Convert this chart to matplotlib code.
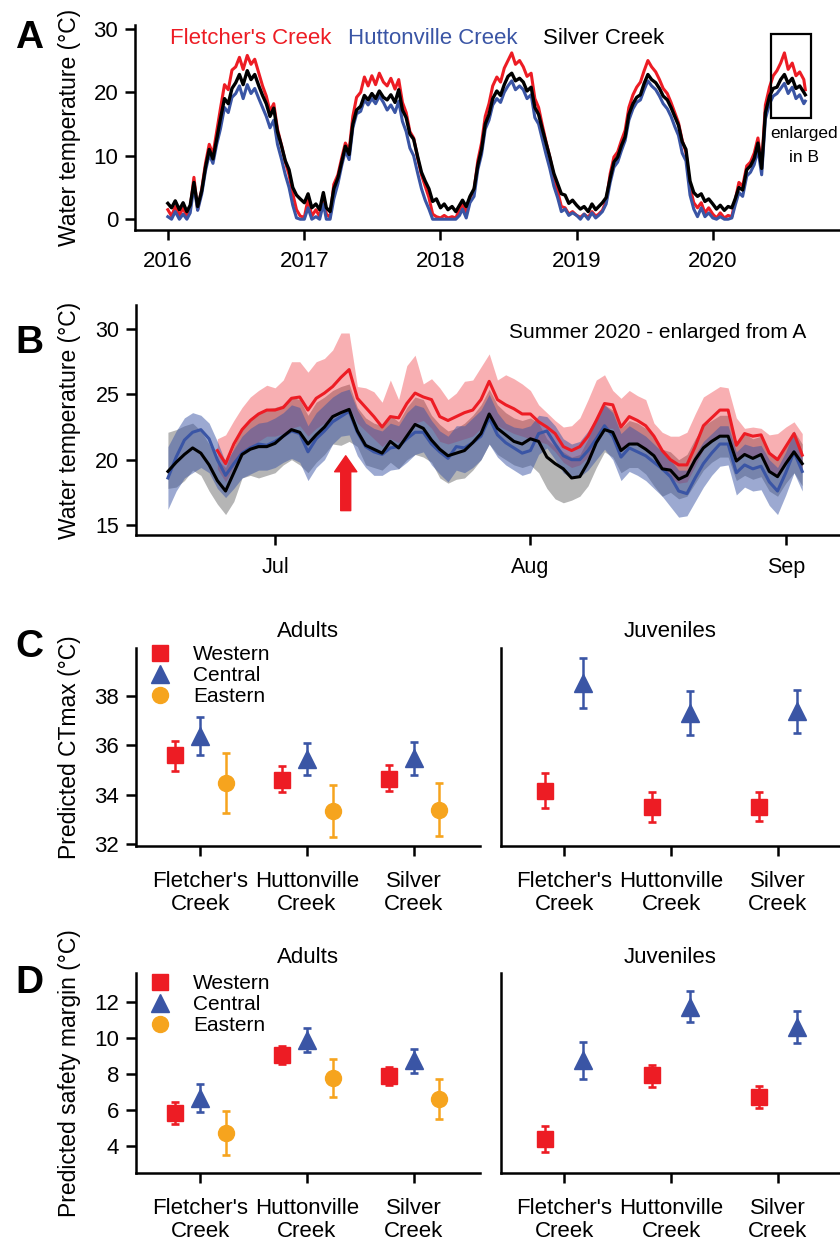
import matplotlib
matplotlib.use('Agg')
import matplotlib.pyplot as plt
import matplotlib.dates as mdates
from matplotlib.patches import Rectangle
from matplotlib.lines import Line2D
import numpy as np
import pandas as pd

plt.rcParams['font.family'] = ['Liberation Sans', 'DejaVu Sans']

RED = '#ED1C24'
BLUE = '#3A55A5'
ORANGE = '#F6A41E'

# --- A: water temperature, 10-day readings 2016 - Sep 2020 ---
fletcher_a = [
    1.5, 0.5, 2.0, 0.6, 1.8, 0.4, 1.8, 6.6, 1.5, 4.8, 8.8, 11.8,
    10.2, 13.8, 17.4, 21.2, 20.4, 23.5, 24.0, 25.5, 23.6, 25.8, 24.4, 25.2,
    23.0, 21.0, 19.4, 17.0, 18.2, 14.2, 11.6, 9.0, 7.0, 4.0, 1.5, 0.5,
    0.3, 3.2, 0.5, 1.5, 0.4, 3.6, 0.8, 0.3, 5.5, 7.0, 9.6, 12.0,
    10.8, 16.2, 19.2, 20.0, 22.4, 21.0, 22.6, 21.2, 23.0, 21.6, 21.0, 22.2,
    20.5, 22.0, 18.4, 16.8, 13.8, 12.8, 9.6, 7.0, 5.2, 3.4, 0.8, 0.4,
    0.2, 0.6, 0.2, 0.4, 0.2, 1.5, 2.4, 1.0, 3.4, 4.6, 9.2, 12.0,
    16.2, 18.2, 21.0, 22.4, 21.6, 23.8, 25.0, 26.2, 24.4, 25.0, 24.0, 22.5,
    23.0, 19.0, 17.6, 14.8, 12.2, 9.8, 6.8, 4.4, 2.0, 1.8, 0.8, 1.2,
    0.6, 0.3, 0.8, 0.3, 1.2, 0.5, 0.8, 1.4, 2.8, 7.2, 9.8, 10.6,
    12.4, 14.0, 17.6, 19.6, 20.8, 21.6, 23.4, 25.0, 24.0, 23.2, 22.0, 20.6,
    19.8, 18.4, 16.8, 15.2, 12.4, 10.6, 5.0, 2.6, 1.8, 2.6, 1.0, 1.8,
    0.8, 0.2, 1.0, 0.2, 0.6, 0.4, 3.0, 5.8, 5.2, 8.4, 9.0, 10.4,
    12.8, 8.6, 18.0, 20.8, 22.6, 23.4, 24.6, 26.2, 23.6, 24.6, 22.6, 23.2,
    22.0, 20.4]
hutton_a = [
    0.4, 0.0, 1.2, 0.0, 0.8, 0.0, 1.0, 5.2, 1.4, 4.0, 7.6, 10.2,
    8.8, 11.8, 14.2, 17.6, 16.8, 19.2, 19.8, 21.0, 19.0, 21.2, 19.8, 20.6,
    19.0, 17.6, 16.2, 14.4, 15.6, 11.8, 9.4, 7.0, 5.0, 2.2, 0.2, 0.0,
    0.0, 1.8, 0.0, 0.4, 0.0, 2.4, 0.0, 0.0, 3.2, 5.6, 8.4, 10.8,
    9.4, 14.4, 16.6, 17.0, 18.8, 18.0, 19.0, 18.2, 19.4, 18.4, 17.2, 18.0,
    16.8, 18.6, 15.4, 13.8, 11.2, 10.0, 7.2, 4.8, 3.0, 1.6, 0.0, 0.0,
    0.0, 0.0, 0.0, 0.0, 0.0, 0.6, 1.6, 0.2, 2.6, 3.6, 7.8, 10.2,
    14.2, 15.6, 18.0, 19.0, 18.4, 20.0, 21.0, 21.8, 20.4, 21.0, 20.4, 19.0,
    19.6, 16.0, 15.0, 12.6, 10.2, 8.0, 5.2, 3.4, 1.2, 1.6, 0.6, 1.0,
    0.6, 0.0, 0.8, 0.0, 1.0, 0.2, 0.6, 1.2, 2.4, 5.8, 8.2, 9.0,
    10.8, 12.4, 15.6, 17.4, 18.4, 18.8, 20.4, 21.8, 21.0, 20.4, 19.4, 18.2,
    17.4, 16.2, 14.6, 13.2, 10.4, 9.2, 3.8, 1.6, 0.4, 1.8, 0.4, 1.0,
    0.2, 0.0, 0.4, 0.0, 0.0, 0.2, 2.2, 4.2, 3.6, 6.8, 7.4, 8.6,
    11.0, 7.0, 15.8, 18.2, 19.4, 19.8, 20.6, 21.4, 19.8, 20.8, 19.0, 19.6,
    18.2, 18.6]
silver_a = [
    2.5, 1.8, 2.9, 1.5, 2.6, 1.2, 2.2, 5.8, 2.0, 4.5, 8.2, 11.0,
    9.5, 12.6, 15.8, 19.0, 18.2, 20.6, 21.5, 22.8, 21.2, 23.4, 22.0, 22.8,
    21.0, 19.5, 18.2, 16.2, 17.5, 13.8, 11.5, 9.2, 7.8, 5.0, 3.8, 3.2,
    2.6, 4.0, 1.8, 2.4, 1.5, 4.2, 1.8, 1.2, 4.8, 6.5, 9.0, 11.5,
    10.2, 15.0, 17.2, 17.8, 19.5, 18.8, 19.8, 19.0, 20.2, 19.2, 18.8, 19.6,
    18.4, 20.4, 17.2, 16.0, 13.4, 12.6, 9.8, 7.4, 6.0, 4.8, 2.8, 3.2,
    1.8, 2.4, 1.5, 2.0, 1.2, 2.2, 3.0, 2.0, 3.6, 4.8, 8.5, 11.0,
    15.0, 16.5, 19.0, 20.2, 19.5, 21.2, 22.5, 23.0, 21.8, 22.2, 21.6, 20.2,
    20.8, 17.6, 16.5, 14.2, 12.0, 9.8, 7.2, 5.6, 4.0, 3.8, 2.5, 3.0,
    2.2, 1.6, 2.0, 1.2, 2.4, 1.5, 2.0, 2.6, 3.4, 6.5, 9.0, 9.8,
    11.6, 13.0, 16.5, 18.2, 19.2, 19.6, 21.4, 22.8, 22.0, 21.5, 20.6, 19.4,
    18.8, 17.6, 16.2, 14.8, 12.2, 11.0, 6.0, 4.2, 3.6, 4.0, 2.8, 3.2,
    2.4, 1.6, 2.2, 1.4, 2.0, 1.8, 3.2, 5.0, 4.6, 7.8, 8.4, 9.6,
    12.0, 8.0, 16.8, 19.4, 20.6, 20.8, 22.0, 22.8, 21.4, 22.2, 20.6, 21.0,
    20.0, 19.6]
dates_a = [pd.Timestamp(y, m, d) for y in range(2016, 2021) for m in range(1, 13)
           for d in (1, 11, 21) if (y, m) < (2020, 9)]
dates_a += [pd.Timestamp(2020, 9, 1), pd.Timestamp(2020, 9, 5)]

# --- B: daily mean / min / max, 18 Jun - 3 Sep 2020 ---
dates_b = pd.date_range('2020-06-18', periods=78, freq='D')
silver_mean = [
    19.1, 19.8, 20.4, 20.9, 20.5, 19.6, 18.4, 17.6, 19.0, 20.4,
    20.8, 21.0, 21.0, 21.25, 21.8, 22.3, 22.1, 21.2, 21.9, 22.5,
    23.3, 23.6, 23.85, 22.2, 21.1, 20.8, 20.5, 21.4, 20.9, 21.8,
    22.7, 22.4, 21.5, 20.8, 20.3, 20.5, 20.7, 21.3, 22.0, 23.5,
    22.4, 21.9, 21.4, 21.2, 21.6, 21.4, 20.2, 19.7, 19.3, 18.6,
    18.7, 19.8, 21.3, 22.3, 22.1, 20.7, 21.2, 21.2, 20.8, 20.3,
    19.3, 19.2, 18.5, 18.8, 20.0, 20.9, 21.4, 21.8, 21.8, 19.9,
    20.4, 20.1, 20.4, 19.1, 18.7, 19.7, 20.6, 19.7]
silver_max = [
    22.1, 22.3, 22.6, 22.8, 22.2, 21.2, 20.0, 19.4, 21.0, 22.4,
    23.2, 23.6, 23.9, 24.0, 24.2, 24.8, 24.6, 23.4, 24.4, 24.8,
    25.3, 25.6, 25.8, 24.0, 23.2, 22.8, 22.6, 23.4, 22.9, 24.0,
    24.8, 24.6, 23.4, 22.7, 22.2, 22.4, 22.8, 23.4, 24.2, 25.4,
    24.2, 23.6, 23.2, 23.0, 23.2, 22.8, 21.6, 21.0, 20.6, 20.2,
    20.4, 21.6, 23.2, 24.2, 23.8, 22.4, 23.0, 22.8, 22.4, 21.8,
    20.8, 20.6, 20.0, 20.4, 21.6, 22.6, 23.0, 23.4, 23.4, 21.4,
    22.0, 21.6, 21.8, 20.6, 20.2, 21.2, 22.2, 21.2]
silver_min = [
    17.8, 17.9, 18.4, 19.2, 18.8, 17.6, 16.6, 15.8, 16.8, 18.6,
    18.8, 18.6, 18.8, 19.0, 19.6, 20.0, 19.6, 19.0, 19.8, 20.4,
    21.2, 21.1, 21.4, 21.0, 19.6, 19.4, 19.2, 19.8, 19.3, 20.0,
    20.4, 20.2, 19.8, 18.6, 18.2, 18.5, 18.6, 19.2, 20.0, 21.2,
    20.4, 20.0, 19.6, 19.4, 19.6, 19.0, 17.8, 17.0, 16.7, 16.9,
    17.2, 18.0, 19.4, 20.6, 20.2, 19.0, 19.4, 19.4, 18.9, 18.0,
    17.2, 17.5, 17.0, 17.2, 18.2, 19.2, 19.8, 20.2, 20.2, 18.4,
    18.8, 18.5, 18.7, 17.6, 17.2, 18.2, 19.0, 18.0]
hutton_mean = [
    18.6, 20.2, 21.5, 22.1, 22.3, 21.6, 20.0, 18.8, 19.7, 20.5,
    20.9, 21.2, 21.1, 21.4, 21.8, 22.2, 22.0, 20.6, 21.6, 22.2,
    22.9, 23.3, 23.7, 22.1, 21.0, 20.6, 20.4, 20.9, 21.0, 21.6,
    22.1, 22.1, 21.2, 20.6, 20.1, 21.0, 20.9, 21.3, 21.8, 23.2,
    21.9, 21.3, 20.9, 20.5, 20.7, 22.0, 22.2, 21.2, 20.3, 20.0,
    20.0, 20.7, 21.6, 22.6, 21.8, 20.2, 20.9, 20.6, 20.3, 19.8,
    19.3, 18.7, 17.6, 17.4, 18.6, 19.7, 20.5, 21.2, 21.2, 19.0,
    19.6, 19.3, 19.5, 18.3, 17.6, 19.0, 20.6, 19.1]
hutton_max = [
    21.0, 22.2, 23.2, 23.6, 23.4, 22.8, 21.4, 19.8, 20.8, 21.8,
    22.4, 22.8, 22.9, 23.2, 23.6, 24.2, 24.0, 22.6, 23.6, 24.2,
    24.8, 25.2, 25.4, 23.8, 22.8, 22.4, 22.2, 22.8, 22.6, 23.6,
    24.2, 24.0, 23.0, 22.2, 21.8, 22.6, 22.6, 23.2, 23.8, 25.0,
    23.6, 22.8, 22.5, 22.4, 22.6, 23.4, 23.3, 22.6, 21.6, 21.2,
    21.4, 22.2, 23.2, 24.2, 23.6, 22.0, 22.6, 22.2, 21.8, 21.2,
    20.6, 20.0, 19.2, 19.2, 20.4, 21.4, 22.0, 22.6, 22.6, 20.6,
    21.2, 21.0, 21.1, 20.0, 19.4, 20.6, 22.2, 20.6]
hutton_min = [
    16.2, 17.6, 18.6, 19.0, 19.4, 19.0, 17.8, 17.1, 17.8, 18.6,
    18.9, 19.2, 19.2, 19.4, 19.8, 20.1, 19.8, 18.4, 19.4, 20.0,
    21.2, 21.8, 21.9, 20.3, 19.4, 18.8, 18.8, 19.2, 19.3, 19.8,
    20.4, 20.6, 19.6, 18.9, 18.3, 19.2, 19.0, 19.4, 20.0, 21.2,
    20.2, 19.6, 19.2, 18.8, 19.0, 20.4, 20.9, 20.0, 19.0, 18.6,
    18.7, 19.2, 20.0, 20.8, 20.0, 18.4, 19.1, 18.8, 18.4, 17.8,
    17.2, 16.4, 15.6, 15.7, 16.8, 17.9, 18.8, 19.5, 19.6, 17.3,
    17.9, 17.6, 17.7, 16.5, 15.8, 17.3, 19.0, 17.6]
# Fletcher's logger starts on 24 Jun
fletcher_mean = [
    20.7, 19.7, 21.2, 22.3,
    23.0, 23.5, 23.8, 23.8, 24.0, 24.7, 24.8, 23.8, 24.7, 25.1,
    25.6, 26.3, 26.9, 24.7, 24.0, 23.3, 22.5, 23.3, 23.2, 24.3,
    25.1, 24.8, 24.6, 23.3, 23.0, 23.3, 23.6, 23.8, 24.6, 26.0,
    24.6, 24.2, 23.9, 23.5, 23.5, 22.9, 22.5, 22.0, 21.0, 20.7,
    21.0, 21.8, 23.0, 24.3, 24.2, 22.5, 23.3, 23.0, 22.6, 21.8,
    20.7, 20.0, 19.6, 19.6, 21.0, 22.6, 23.2, 23.8, 23.8, 21.1,
    22.0, 21.8, 21.9, 20.5, 20.0, 21.0, 22.0, 20.35]
fletcher_max = [
    21.6, 21.9, 23.0, 24.0,
    24.8, 25.3, 25.7, 25.5, 26.1, 27.5, 27.5, 26.7, 27.5, 27.75,
    28.4, 29.7, 29.7, 25.6, 25.5, 25.2, 24.4, 26.1, 24.6, 27.2,
    28.0, 25.8, 26.2, 25.5, 24.6, 25.1, 26.0, 26.1, 27.1, 28.1,
    26.1, 26.5, 26.2, 25.8, 25.3, 24.2, 23.6, 23.0, 22.5, 22.6,
    23.2, 24.6, 26.1, 26.5, 25.3, 24.7, 25.3, 24.9, 24.6, 22.8,
    22.1, 21.8, 21.8, 22.1, 23.5, 24.8, 25.2, 25.6, 25.5, 23.2,
    22.4, 22.5, 22.4, 21.9, 22.0, 22.5, 22.9, 22.0]
fletcher_min = [
    19.3, 18.3, 19.5, 20.5,
    21.0, 21.4, 21.8, 21.8, 22.0, 22.4, 22.6, 21.8, 22.4, 22.8,
    23.2, 23.6, 24.0, 22.8, 22.2, 21.6, 21.0, 21.6, 21.3, 22.0,
    22.8, 23.0, 22.4, 21.4, 21.2, 21.4, 21.6, 21.8, 22.4, 23.6,
    22.6, 22.3, 22.0, 21.8, 21.6, 21.4, 21.2, 20.6, 19.8, 19.4,
    19.6, 20.2, 21.2, 22.4, 22.4, 20.8, 21.4, 21.2, 20.8, 20.2,
    19.4, 18.6, 18.2, 18.3, 19.5, 20.8, 21.4, 21.9, 21.9, 19.8,
    20.4, 20.2, 20.3, 19.2, 18.7, 19.6, 20.8, 19.3]
arrow_date = pd.Timestamp('2020-07-09 14:00')

# --- C / D: model predictions (mean, lower, upper) ---
creeks = ["Fletcher's\nCreek", "Huttonville\nCreek", "Silver\nCreek"]

ctmax_adult_western = [35.6, 34.6, 34.65]
ctmax_adult_western_ci = ([34.95, 34.1, 34.15], [36.2, 35.15, 35.2])
ctmax_adult_central = [36.4, 35.47, 35.5]
ctmax_adult_central_ci = ([35.6, 34.8, 34.8], [37.17, 36.08, 36.16])
ctmax_adult_eastern = [34.46, 33.33, 33.4]
ctmax_adult_eastern_ci = ([33.25, 32.28, 32.32], [35.7, 34.38, 34.46])
ctmax_juv_western = [34.14, 33.5, 33.5]
ctmax_juv_western_ci = ([33.45, 32.9, 32.93], [34.9, 34.1, 34.1])
ctmax_juv_central = [38.55, 37.33, 37.4]
ctmax_juv_central_ci = ([37.5, 36.44, 36.5], [39.56, 38.2, 38.26])

margin_adult_western = [5.83, 9.06, 7.9]
margin_adult_western_ci = ([5.22, 8.56, 7.39], [6.44, 9.56, 8.39])
margin_adult_central = [6.67, 9.89, 8.78]
margin_adult_central_ci = ([5.89, 9.22, 8.06], [7.44, 10.56, 9.39])
margin_adult_eastern = [4.72, 7.78, 6.61]
margin_adult_eastern_ci = ([3.5, 6.72, 5.5], [5.94, 8.83, 7.72])
margin_juv_western = [4.39, 7.94, 6.72]
margin_juv_western_ci = ([3.67, 7.28, 6.11], [5.11, 8.5, 7.33])
margin_juv_central = [8.78, 11.72, 10.6]
margin_juv_central_ci = ([7.72, 10.89, 9.72], [9.78, 12.61, 11.5])

STYLE = {'Western': ('s', RED, 11),
         'Central': ('^', BLUE, 13.5),
         'Eastern': ('o', ORANGE, 11.5)}


def style_axis(ax, fs=16):
    for s in ['top', 'right']:
        ax.spines[s].set_visible(False)
    for s in ['left', 'bottom']:
        ax.spines[s].set_linewidth(1.8)
    ax.tick_params(width=1.8, length=7, labelsize=fs, pad=5)


def plot_points(ax, groups, offsets):
    x0 = np.arange(1, 4)
    for (name, mid, ci), off in zip(groups, offsets):
        marker, color, ms = STYLE[name]
        lo, hi = ci
        yerr = [np.subtract(mid, lo), np.subtract(hi, mid)]
        ax.errorbar(x0 + off, mid, yerr=yerr, fmt=marker, color=color, ms=ms,
                    mec=color, elinewidth=1.8, capsize=3.0, capthick=1.9)
    ax.set_xticks(x0)
    ax.set_xticklabels(creeks, linespacing=1.12)


def add_legend(ax, y_top):
    handles = [Line2D([], [], ls='none', marker=STYLE[n][0], color=STYLE[n][1],
                      ms=STYLE[n][2]) for n in ['Western', 'Central', 'Eastern']]
    ax.legend(handles, ['Western', 'Central', 'Eastern'], loc='upper left',
              bbox_to_anchor=(0.04, y_top), frameon=False, fontsize=15,
              handlelength=1.0, handletextpad=1.08, labelspacing=0.1,
              borderpad=0, borderaxespad=0)


fig = plt.figure(figsize=(8.4, 12.42), dpi=100)

# ---------------- A ----------------
axA = fig.add_axes([0.1607, 0.8148, 0.8393, 0.1651])
axA.plot(dates_a, fletcher_a, color=RED, lw=2.2)
axA.plot(dates_a, hutton_a, color=BLUE, lw=2.2)
axA.plot(dates_a, silver_a, color='black', lw=2.4)
axA.set_ylim(-1.7, 30.6)
axA.set_yticks([0, 10, 20, 30])
axA.set_xlim(pd.Timestamp('2015-10-05'), pd.Timestamp('2020-12-07'))
axA.xaxis.set_major_locator(mdates.YearLocator())
axA.xaxis.set_major_formatter(mdates.DateFormatter('%Y'))
style_axis(axA)
axA.tick_params(axis='x', pad=8)
axA.set_ylabel('Water temperature (°C)', fontsize=16.5)
axA.yaxis.set_label_coords(-0.0766, 0.5)
for label, color, xpos in [("Fletcher's Creek", RED, 0.0496),
                           ('Huttonville Creek', BLUE, 0.302),
                           ('Silver Creek', 'black', 0.579)]:
    axA.text(xpos, 0.907, label, color=color, fontsize=16,
             transform=axA.transAxes, va='baseline')
x_box = mdates.date2num(pd.Timestamp('2020-06-04'))
axA.add_patch(Rectangle((x_box, 16.0), 107, 13.1, fill=False, lw=1.6,
                        ec='black', clip_on=False, zorder=5))
axA.text(pd.Timestamp('2020-09-01'), 12.8, 'enlarged', fontsize=12.5,
         ha='center', va='baseline')
axA.text(pd.Timestamp('2020-09-01'), 9.0, 'in B', fontsize=12.5,
         ha='center', va='baseline')

# ---------------- B ----------------
axB = fig.add_axes([0.1619, 0.5692, 0.8381, 0.1852])
dates_f = dates_b[6:]
axB.fill_between(dates_b, silver_min, silver_max, color='black', alpha=0.29, lw=0)
axB.fill_between(dates_f, fletcher_min, fletcher_max, color=RED, alpha=0.35, lw=0)
axB.fill_between(dates_b, hutton_min, hutton_max, color=BLUE, alpha=0.5, lw=0)
axB.plot(dates_b, hutton_mean, color=BLUE, lw=2.2)
axB.plot(dates_b, silver_mean, color='black', lw=2.2)
axB.plot(dates_f, fletcher_mean, color=RED, lw=2.2)
axB.set_ylim(14.23, 31.84)
axB.set_yticks([15, 20, 25, 30])
axB.set_xlim(pd.Timestamp('2020-06-14 03:00'), pd.Timestamp('2020-09-07 14:00'))
axB.xaxis.set_major_locator(mdates.MonthLocator(bymonth=[7, 8, 9]))
axB.xaxis.set_major_formatter(mdates.DateFormatter('%b'))
style_axis(axB, fs=15.5)
axB.tick_params(axis='x', pad=9)
axB.set_ylabel('Water temperature (°C)', fontsize=16.5)
axB.yaxis.set_label_coords(-0.0781, 0.5)
axB.text(0.53, 0.857, 'Summer 2020 - enlarged from A', fontsize=15,
         transform=axB.transAxes, va='baseline')
axB.annotate('', xy=(arrow_date, 20.3), xytext=(arrow_date, 16.1),
             arrowprops=dict(arrowstyle='simple,head_length=1.15,head_width=1.6,tail_width=0.72',
                             color=RED, shrinkA=0, shrinkB=0, mutation_scale=10))

# ---------------- C ----------------
axC1 = fig.add_axes([0.1619, 0.3188, 0.4095, 0.1594])
axC2 = fig.add_axes([0.5964, 0.3188, 0.4036, 0.1594])
plot_points(axC1, [('Western', ctmax_adult_western, ctmax_adult_western_ci),
                   ('Central', ctmax_adult_central, ctmax_adult_central_ci),
                   ('Eastern', ctmax_adult_eastern, ctmax_adult_eastern_ci)],
            [-0.235, 0.0, 0.24])
plot_points(axC2, [('Western', ctmax_juv_western, ctmax_juv_western_ci),
                   ('Central', ctmax_juv_central, ctmax_juv_central_ci)],
            [-0.18, 0.18])
for ax, xl in [(axC1, (0.40, 3.62)), (axC2, (0.41, 3.58))]:
    ax.set_ylim(31.92, 39.95)
    ax.set_xlim(*xl)
    style_axis(ax)
    ax.tick_params(axis='x', pad=11)
axC1.set_yticks([32, 34, 36, 38])
axC2.set_yticks([])
axC1.set_title('Adults', fontsize=16, pad=8)
axC2.set_title('Juveniles', fontsize=16, pad=8)
axC1.set_ylabel('Predicted CTmax (°C)', fontsize=16.5)
axC1.yaxis.set_label_coords(-0.16, 0.5)
add_legend(axC1, 1.015)

# ---------------- D ----------------
axD1 = fig.add_axes([0.1619, 0.0556, 0.4095, 0.161])
axD2 = fig.add_axes([0.5964, 0.0556, 0.4036, 0.161])
plot_points(axD1, [('Western', margin_adult_western, margin_adult_western_ci),
                   ('Central', margin_adult_central, margin_adult_central_ci),
                   ('Eastern', margin_adult_eastern, margin_adult_eastern_ci)],
            [-0.235, 0.0, 0.24])
plot_points(axD2, [('Western', margin_juv_western, margin_juv_western_ci),
                   ('Central', margin_juv_central, margin_juv_central_ci)],
            [-0.18, 0.18])
for ax, xl in [(axD1, (0.40, 3.62)), (axD2, (0.41, 3.58))]:
    ax.set_ylim(2.5, 13.6)
    ax.set_xlim(*xl)
    style_axis(ax)
    ax.tick_params(axis='x', pad=11)
axD1.set_yticks([4, 6, 8, 10, 12])
axD2.set_yticks([])
axD1.set_title('Adults', fontsize=16, pad=7)
axD2.set_title('Juveniles', fontsize=16, pad=7)
axD1.set_ylabel('Predicted safety margin (°C)', fontsize=16.5)
axD1.yaxis.set_label_coords(-0.16, 0.5)
add_legend(axD1, 0.995)

# panel letters
for letter, y in [('A', 0.9614), ('B', 0.7158), ('C', 0.471), ('D', 0.2005)]:
    fig.text(0.018, y, letter, fontsize=28, fontweight='bold', va='baseline')

fig.savefig('out.png', dpi=100)
